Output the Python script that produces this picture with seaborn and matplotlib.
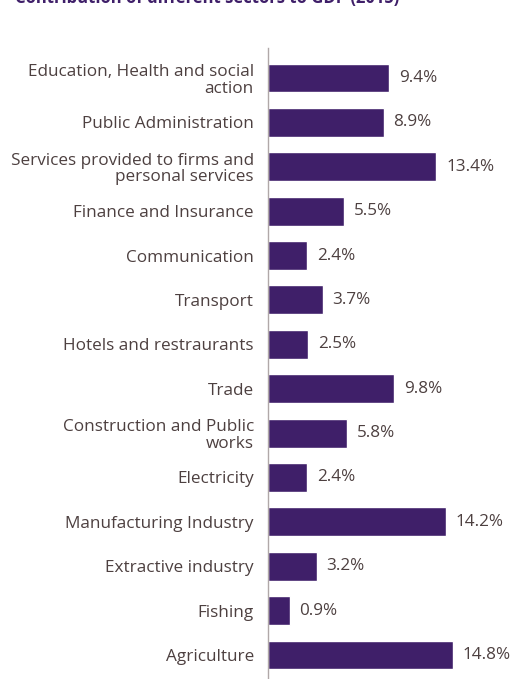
import matplotlib
matplotlib.use("Agg")
import seaborn as sns
from matplotlib import pyplot as plt

SECTORS = [
    "Education, Health and social\naction",
    "Public Administration",
    "Services provided to firms and\npersonal services",
    "Finance and Insurance",
    "Communication",
    "Transport",
    "Hotels and restraurants",
    "Trade",
    "Construction and Public\nworks",
    "Electricity",
    "Manufacturing Industry",
    "Extractive industry",
    "Fishing",
    "Agriculture",
]
SHARES = [9.4, 8.9, 13.4, 5.5, 2.4, 3.7, 2.5, 9.8, 5.8, 2.4, 14.2, 3.2, 0.9, 14.8]
TITLE = "Contribution of different sectors to GDP (2015)"

BAR_COLOR = "#3f1f69"
TEXT_COLOR = "#4d4040"

sns.set_theme(style="white")
plt.rcParams["font.family"] = ["Open Sans", "DejaVu Sans"]

fig = plt.figure(figsize=(5.11, 6.79), dpi=100)
ax = fig.add_axes([0.524, 0.0, 0.476, 0.929])

sns.barplot(x=SHARES, y=SECTORS, orient="h", color=BAR_COLOR, width=0.65,
            saturation=1, ax=ax)

# bars in the original start a little to the right of the axis line
ax.set_xlim(-0.97, 19.75)
ax.set_ylim(13.54, -0.67)
for patch in ax.patches:
    patch.set_x(-0.97)
    patch.set_width(patch.get_width() + 0.97)
ax.bar_label(ax.containers[0], labels=[f"{v}%" for v in SHARES], padding=7,
             fontsize=12.3, color=TEXT_COLOR)

for side in ["top", "right", "bottom"]:
    ax.spines[side].set_visible(False)
ax.spines["left"].set_color("#b0a8a8")
ax.spines["left"].set_linewidth(1.0)
ax.set_xticks([])
ax.set_xlabel("")
ax.set_ylabel("")
ax.tick_params(axis="y", length=0, pad=10, labelsize=12.3, labelcolor=TEXT_COLOR)
for lbl in ax.get_yticklabels():
    lbl.set_linespacing(1.05)

fig.text(0.03, 0.995, TITLE, fontsize=12, fontweight="bold", color=BAR_COLOR,
         ha="left", va="baseline")

fig.savefig("out.png", dpi=100)
plt.close(fig)
